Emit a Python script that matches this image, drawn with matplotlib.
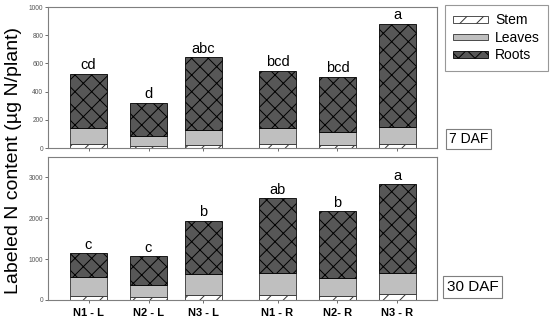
import matplotlib
matplotlib.use("Agg")
import matplotlib.pyplot as plt
from matplotlib.patches import Patch
import numpy as np

plt.rcParams['font.family'] = ['Liberation Sans', 'DejaVu Sans']
plt.rcParams['hatch.linewidth'] = 0.7

categories = ["N1 - L", "N2 - L", "N3 - L", "N1 - R", "N2- R", "N3 - R"]

# 7 DAF (top panel)
stem_7 = [28, 16, 23, 25, 20, 30]
leaves_7 = [113, 71, 106, 120, 90, 122]
roots_7 = [383, 235, 513, 400, 395, 730]
letters_7 = ["cd", "d", "abc", "bcd", "bcd", "a"]

# 30 DAF (bottom panel)
stem_30 = [95, 85, 120, 122, 98, 140]
leaves_30 = [476, 290, 510, 532, 433, 530]
roots_30 = [574, 696, 1314, 1838, 1642, 2165]
letters_30 = ["c", "c", "b", "ab", "b", "a"]

xpos = [40.5, 100.5, 155.5, 229.5, 289.5, 349.5]
width = 37

fig = plt.figure(figsize=(5.5, 3.21), dpi=100)
ax1 = fig.add_axes([48/550, 1-148/321, 389/550, 141/321])
ax2 = fig.add_axes([48/550, 1-300/321, 389/550, 143/321])

stem_kw = dict(facecolor='white', edgecolor='#333333', hatch='//', linewidth=0.6)
leaf_kw = dict(facecolor='#bfbfbf', edgecolor='#333333', linewidth=0.6)
root_kw = dict(facecolor='#575757', edgecolor='black', hatch='xx', linewidth=0.6)

def draw(ax, stem, leaves, roots, letters, ylim, yticks, offset):
    stem = np.array(stem); leaves = np.array(leaves); roots = np.array(roots)
    ax.bar(xpos, stem, width, **stem_kw)
    ax.bar(xpos, leaves, width, bottom=stem, **leaf_kw)
    ax.bar(xpos, roots, width, bottom=stem + leaves, **root_kw)
    tot = stem + leaves + roots
    for x, t, l in zip(xpos, tot, letters):
        ax.text(x, t + offset, l, ha='center', va='bottom', fontsize=10.5)
    ax.set_xlim(0, 389)
    ax.set_ylim(*ylim)
    ax.set_yticks(yticks)
    ax.set_xticks(xpos)
    for s in ax.spines.values():
        s.set_color('#7f7f7f')
        s.set_linewidth(0.8)
    ax.tick_params(axis='y', labelsize=4.8, length=2, width=0.6, colors='#555555', pad=1.5)
    ax.tick_params(axis='x', length=2, width=0.6, colors='#555555')

draw(ax1, stem_7, leaves_7, roots_7, letters_7, (0, 1000), [0, 200, 400, 600, 800, 1000], 12)
draw(ax2, stem_30, leaves_30, roots_30, letters_30, (0, 3500), [0, 1000, 2000, 3000], 40)
ax1.set_xticklabels([])
ax2.set_xticklabels(categories, fontsize=8, fontweight='bold', color='black')
ax2.tick_params(axis='x', pad=4, labelcolor='black')

fig.text(0.024, 0.5, "Labeled N content (µg N/plant)", rotation=90, ha='center', va='center', fontsize=14)

handles = [Patch(**stem_kw, label='Stem'), Patch(**leaf_kw, label='Leaves'), Patch(**root_kw, label='Roots')]
leg = fig.legend(handles=handles, loc='upper left', bbox_to_anchor=(445/550, 1-5/321),
                 fontsize=10, frameon=True, fancybox=False, edgecolor='#7f7f7f',
                 handlelength=2.5, handleheight=0.35, handletextpad=0.5, labelspacing=0.25,
                 borderpad=0.6, borderaxespad=0)
leg.get_frame().set_linewidth(0.8)

fig.text(449/550, 1-139/321, "7 DAF", ha='left', va='center', fontsize=10,
         bbox=dict(boxstyle='square,pad=0.2', facecolor='white', edgecolor='#7f7f7f', linewidth=0.8))
fig.text(447/550, 1-287/321, "30 DAF", ha='left', va='center', fontsize=11,
         bbox=dict(boxstyle='square,pad=0.25', facecolor='white', edgecolor='#7f7f7f', linewidth=0.8))

fig.savefig("out.png", dpi=100)
